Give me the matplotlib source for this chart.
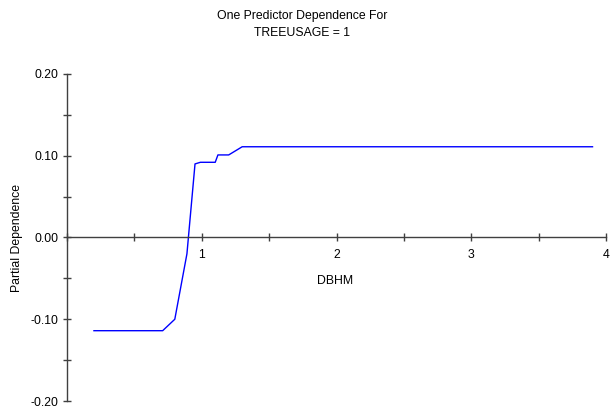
import matplotlib
matplotlib.use("Agg")
import matplotlib.pyplot as plt
from matplotlib.ticker import MultipleLocator, FormatStrFormatter

plt.rcParams['font.family'] = ['Liberation Sans', 'DejaVu Sans']

dbhm = [0.20, 0.71, 0.80, 0.89, 0.95, 0.99, 1.10, 1.12, 1.20, 1.30, 3.90]
partial_dep = [-0.114, -0.114, -0.100, -0.020, 0.090, 0.092, 0.092, 0.101, 0.101, 0.111, 0.111]
title_lines = ["One Predictor Dependence For", "TREEUSAGE = 1"]

W, H = 611, 415
fig = plt.figure(figsize=(W / 100, H / 100), dpi=100)
left, right, top, bottom = 67, 606, 74, 401
ax = fig.add_axes([left / W, 1 - bottom / H, (right - left) / W, (bottom - top) / H])

axis_col = '#404040'
fs = 8.8

ax.plot(dbhm, partial_dep, color='#0000ff', lw=1.0)
ax.set_xlim(0, 4)
ax.set_ylim(-0.2, 0.2)

for s in ['top', 'right']:
    ax.spines[s].set_visible(False)
ax.spines['bottom'].set_position(('data', 0))
for s in ['left', 'bottom']:
    ax.spines[s].set_color(axis_col)
    ax.spines[s].set_linewidth(1.0)

ax.xaxis.set_major_locator(MultipleLocator(1))
ax.xaxis.set_minor_locator(MultipleLocator(0.5))
ax.yaxis.set_major_locator(MultipleLocator(0.1))
ax.yaxis.set_minor_locator(MultipleLocator(0.05))
ax.yaxis.set_major_formatter(FormatStrFormatter('%.2f'))
ax.xaxis.set_major_formatter(lambda v, p: '' if abs(v) < 1e-9 else f'{v:g}')

ax.tick_params(which='both', direction='inout', length=6, width=1.0, color=axis_col,
               labelsize=fs, labelcolor='black')
ax.tick_params(axis='x', pad=5)
ax.tick_params(axis='y', pad=3)

ax.set_xlabel('DBHM', fontsize=fs)
ax.xaxis.label.set_va('center')
ax.xaxis.set_label_coords(0.497, 0.368)
ax.set_ylabel('Partial Dependence', fontsize=fs)
ax.yaxis.label.set_va('center')
ax.yaxis.set_label_coords(-0.093, 0.50)

fig.text(302 / W, 1 - 16 / H, title_lines[0], ha='center', va='center', fontsize=fs)
fig.text(302 / W, 1 - 33 / H, title_lines[1], ha='center', va='center', fontsize=fs)

fig.savefig('out.png', dpi=100, facecolor='white')
